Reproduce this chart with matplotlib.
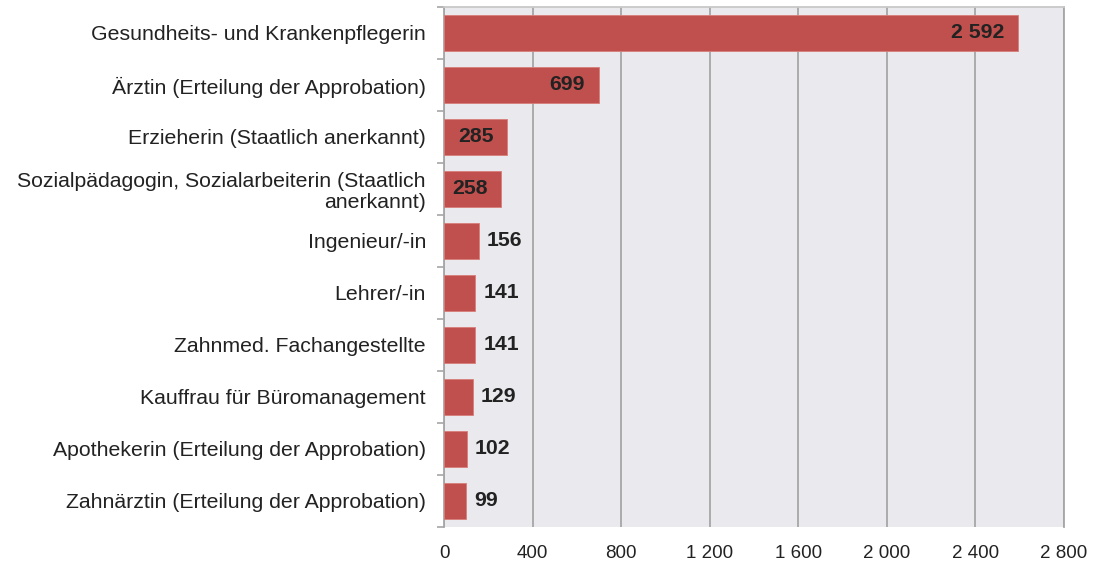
import matplotlib
matplotlib.use("Agg")
import matplotlib.pyplot as plt
import numpy as np
from matplotlib.ticker import FuncFormatter, FixedLocator

categories = [
    "Gesundheits- und Krankenpflegerin",
    "Ärztin (Erteilung der Approbation)",
    "Erzieherin (Staatlich anerkannt)",
    "Sozialpädagogin, Sozialarbeiterin (Staatlich\nanerkannt)",
    "Ingenieur/-in",
    "Lehrer/-in",
    "Zahnmed. Fachangestellte",
    "Kauffrau für Büromanagement",
    "Apothekerin (Erteilung der Approbation)",
    "Zahnärztin (Erteilung der Approbation)",
]
values = [2592, 699, 285, 258, 156, 141, 141, 129, 102, 99]
x_ticks = [0, 400, 800, 1200, 1600, 2000, 2400, 2800]

plt.rcParams['font.family'] = ['Liberation Sans', 'DejaVu Sans']

fig = plt.figure(figsize=(10.99, 5.66), dpi=100)
ax = fig.add_axes([444/1099, 1-527/566, (1064-444)/1099, (527-7)/566])
ax.set_facecolor('#EAEAEE')

n = len(categories)
y = np.arange(n)
ax.barh(y, values, height=0.69, color='#C0504D', edgecolor='#D87D7A', linewidth=0.6, zorder=3)
ax.set_ylim(n - 0.5, -0.5)
ax.set_xlim(0, 2800)
ax.xaxis.set_major_locator(FixedLocator(x_ticks))
ax.xaxis.set_major_formatter(FuncFormatter(lambda v, p: f"{int(v):,}".replace(",", " ")))
ax.grid(axis='x', color='#A6A6A6', linewidth=1.3, zorder=1)
ax.tick_params(axis='x', length=0, labelsize=13.5, pad=13, colors='#222222')

ax.set_yticks(y)
ax.set_yticklabels(categories, fontsize=15.3, color='#222222', ha='right', linespacing=1.15)
ax.tick_params(axis='y', which='major', length=0, pad=13)
ax.yaxis.set_minor_locator(FixedLocator(np.arange(-0.5, n, 1.0)))
ax.tick_params(axis='y', which='minor', length=5, width=1.2, color='#A6A6A6', direction='out')

for s in ['left', 'right', 'top', 'bottom']:
    ax.spines[s].set_color('#A6A6A6')
    ax.spines[s].set_linewidth(1.3)
ax.spines['bottom'].set_visible(False)
ax.spines['top'].set_color('#C8C8C8')

for yi, v in zip(y, values):
    lab = f"{v:,}".replace(",", " ")
    if v >= 200:
        ax.text(v - 62, yi, lab, ha='right', va='center', fontsize=15.3,
                fontweight='bold', color='#222222', zorder=4)
    else:
        ax.text(v + 36, yi, lab, ha='left', va='center', fontsize=15.3,
                fontweight='bold', color='#222222', zorder=4)

fig.savefig("out.png", dpi=100)
